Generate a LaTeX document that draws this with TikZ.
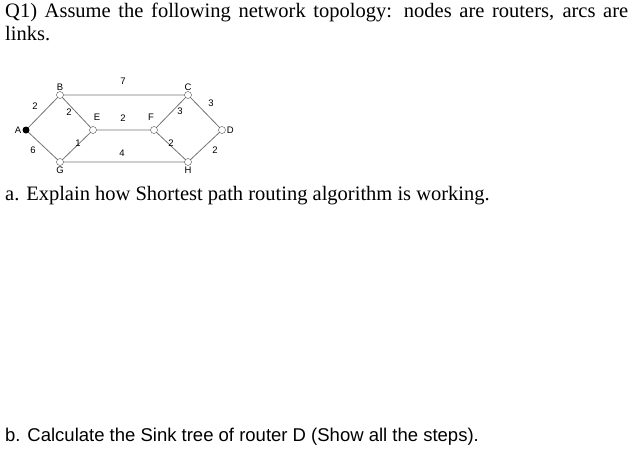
\documentclass[tikz,border=0pt]{standalone}
\usepackage{fontspec}
\setmainfont{Liberation Serif}
\newfontfamily\arial{Liberation Sans}
\begin{document}
\begin{tikzpicture}[x=1pt,y=-1pt,
  rt/.style={circle,draw=black!70,fill=white,inner sep=0pt,minimum size=7pt},
  ln/.style={draw=black!55,line width=0.8pt},
  wt/.style={font=\arial\fontsize{9.5}{10}\selectfont,inner sep=1pt},
  txt/.style={anchor=north west,inner sep=0pt,font=\fontsize{20.5}{23}\selectfont}]
\useasboundingbox (0,0) rectangle (632,455);
\node[txt,text width=623pt,align=justify] (t1) at (5,3) {Q1) Assume the following network topology: nodes are routers, arcs are\linebreak links.};
\path[ln] (60,95) -- (188,95) (93,130) -- (154,130) (60,162) -- (188,162)
  (26,130) -- (60,95) -- (93,130) -- (60,162) -- cycle
  (188,95) -- (222,130) -- (188,162) -- (154,130) -- cycle;
\node[circle,fill=black,inner sep=0pt,minimum size=7pt] (nA) at (26,130) {};
\node[rt] (nB) at (60,95) {};
\node[rt] (nC) at (188,95) {};
\node[rt] (nE) at (93,130) {};
\node[rt] (nF) at (154,130) {};
\node[rt] (nD) at (222,130) {};
\node[rt] (nG) at (60,162) {};
\node[rt] (nH) at (188,162) {};
\node[wt,left] (lA) at (nA.west) {A};
\node[wt,above] (lB) at (nB.north) {B};
\node[wt,above] (lC) at (nC.north) {C};
\node[wt] (lE) at (97,117) {E};
\node[wt] (lF) at (151,117) {F};
\node[wt,right] (lD) at (nD.east) {D};
\node[wt,below] (lG) at (nG.south) {G};
\node[wt,below] (lH) at (nH.south) {H};
\node[wt] (w1) at (35,106) {2};
\node[wt] (w2) at (33,150) {6};
\node[wt] (w3) at (69,112) {2};
\node[wt] (w4) at (78,143) {1};
\node[wt] (w5) at (123,81) {7};
\node[wt] (w6) at (123,118) {2};
\node[wt] (w7) at (122,153) {4};
\node[wt] (w8) at (180,111) {3};
\node[wt] (w9) at (171,143) {2};
\node[wt] (w10) at (211,103) {3};
\node[wt] (w11) at (215,150) {2};
\node[txt] (ta) at (5,186) {a. Explain how Shortest path routing algorithm is working.};
\node[txt,font=\arial\fontsize{18.5}{20}\selectfont] (tb) at (5,428) {b. Calculate the Sink tree of router D (Show all the steps).};
\end{tikzpicture}
\end{document}
